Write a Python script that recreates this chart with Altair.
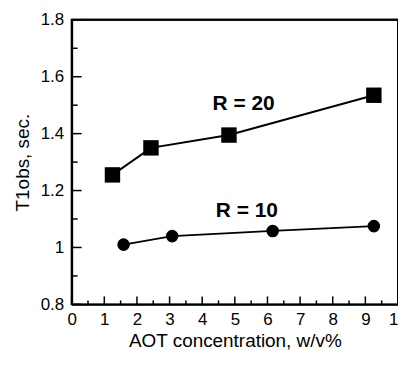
import altair as alt
import pandas as pd

# Data
r20_x = [1.25, 2.43, 4.82, 9.26]
r20_y = [1.255, 1.35, 1.395, 1.535]
r10_x = [1.59, 3.08, 6.16, 9.26]
r10_y = [1.01, 1.04, 1.058, 1.075]

x_major = [0, 1, 2, 3, 4, 5, 6, 7, 8, 9, 10]
x_minor = [0.5, 1.5, 2.5, 3.5, 4.5, 5.5, 6.5, 7.5, 8.5, 9.5]
y_major = [0.8, 1.0, 1.2, 1.4, 1.6, 1.8]
y_minor = [0.9, 1.1, 1.3, 1.5, 1.7]

label_text = ["R = 20", "R = 10"]
label_x = [5.27, 5.37]
label_y = [1.503, 1.129]

FONT = "Liberation Sans"
W, H = 328, 286

df20 = pd.DataFrame({"x": r20_x, "y": r20_y})
df10 = pd.DataFrame({"x": r10_x, "y": r10_y})
dlab = pd.DataFrame({"t": label_text, "x": label_x, "y": label_y})

X0, X1 = x_major[0], x_major[-1]
Y0, Y1 = y_major[0], y_major[-1]

xs = alt.Scale(domain=[X0, X1], nice=False, zero=False)
ys = alt.Scale(domain=[Y0, Y1], nice=False, zero=False)

xax = alt.Axis(values=x_major, format="d", ticks=False, grid=False,
               domain=True, domainColor="black", domainWidth=2,
               labelFont=FONT, labelFontSize=17, labelColor="black", labelPadding=7,
               labelOverlap=False, labelFlush=False, labelBound=False,
               title="AOT concentration, w/v%", titleFont=FONT, titleFontSize=19,
               titleFontWeight="normal", titleColor="black", titlePadding=4)
yax = alt.Axis(values=y_major, ticks=False, grid=False,
               domain=True, domainColor="black", domainWidth=2,
               labelExpr="datum.value == 1 ? '1' : format(datum.value, '.1f')",
               labelFont=FONT, labelFontSize=17, labelColor="black", labelPadding=8,
               labelOverlap=False, labelFlush=False,
               title="T1obs, sec.", titleFont=FONT, titleFontSize=19,
               titleFontWeight="normal", titleColor="black", titlePadding=8)

X = alt.X("x:Q", scale=xs, axis=xax)
Y = alt.Y("y:Q", scale=ys, axis=yax)

line20 = alt.Chart(df20).mark_line(color="black", strokeWidth=2).encode(x=X, y=Y)
pts20 = alt.Chart(df20).mark_point(shape="square", filled=True, color="black", size=240, opacity=1).encode(x=X, y=Y)
line10 = alt.Chart(df10).mark_line(color="black", strokeWidth=1.8).encode(x=X, y=Y)
pts10 = alt.Chart(df10).mark_point(shape="circle", filled=True, color="black", size=160, opacity=1).encode(x=X, y=Y)

labels = alt.Chart(dlab).mark_text(font=FONT, fontSize=21, fontWeight="bold", color="black").encode(
    x=X, y=Y, text="t:N")

# inward ticks
ymaj = alt.Chart(pd.DataFrame({"y": y_major})).mark_rule(color="black", strokeWidth=1.5).encode(
    y=Y, x=alt.value(0), x2=alt.value(10))
ymin = alt.Chart(pd.DataFrame({"y": y_minor})).mark_rule(color="black", strokeWidth=1.5).encode(
    y=Y, x=alt.value(0), x2=alt.value(6))
xmaj = alt.Chart(pd.DataFrame({"x": x_major})).mark_rule(color="black", strokeWidth=1.5).encode(
    x=X, y=alt.value(H), y2=alt.value(H - 8))
xmin = alt.Chart(pd.DataFrame({"x": x_minor})).mark_rule(color="black", strokeWidth=1.5).encode(
    x=X, y=alt.value(H), y2=alt.value(H - 4))

# top and right frame lines at the domain limits
f_top = alt.Chart(pd.DataFrame({"y": [Y1]})).mark_rule(color="black", strokeWidth=2).encode(
    y=Y, x=alt.value(0), x2=alt.value(W))
f_right = alt.Chart(pd.DataFrame({"x": [X1]})).mark_rule(color="black", strokeWidth=2).encode(
    x=X, y=alt.value(0), y2=alt.value(H))

chart = alt.layer(line20, line10, ymaj, ymin, xmaj, xmin,
                  pts20, pts10, labels, f_top, f_right).properties(
    width=W, height=H,
    autosize=alt.AutoSizeParams(type="none"),
    padding={"left": 64, "top": 11, "right": 0, "bottom": 50},
    view=alt.ViewBackground(stroke="black", strokeWidth=2),
).configure(background="white")

chart.save("out.html", embed_options={"renderer": "svg", "actions": False})
